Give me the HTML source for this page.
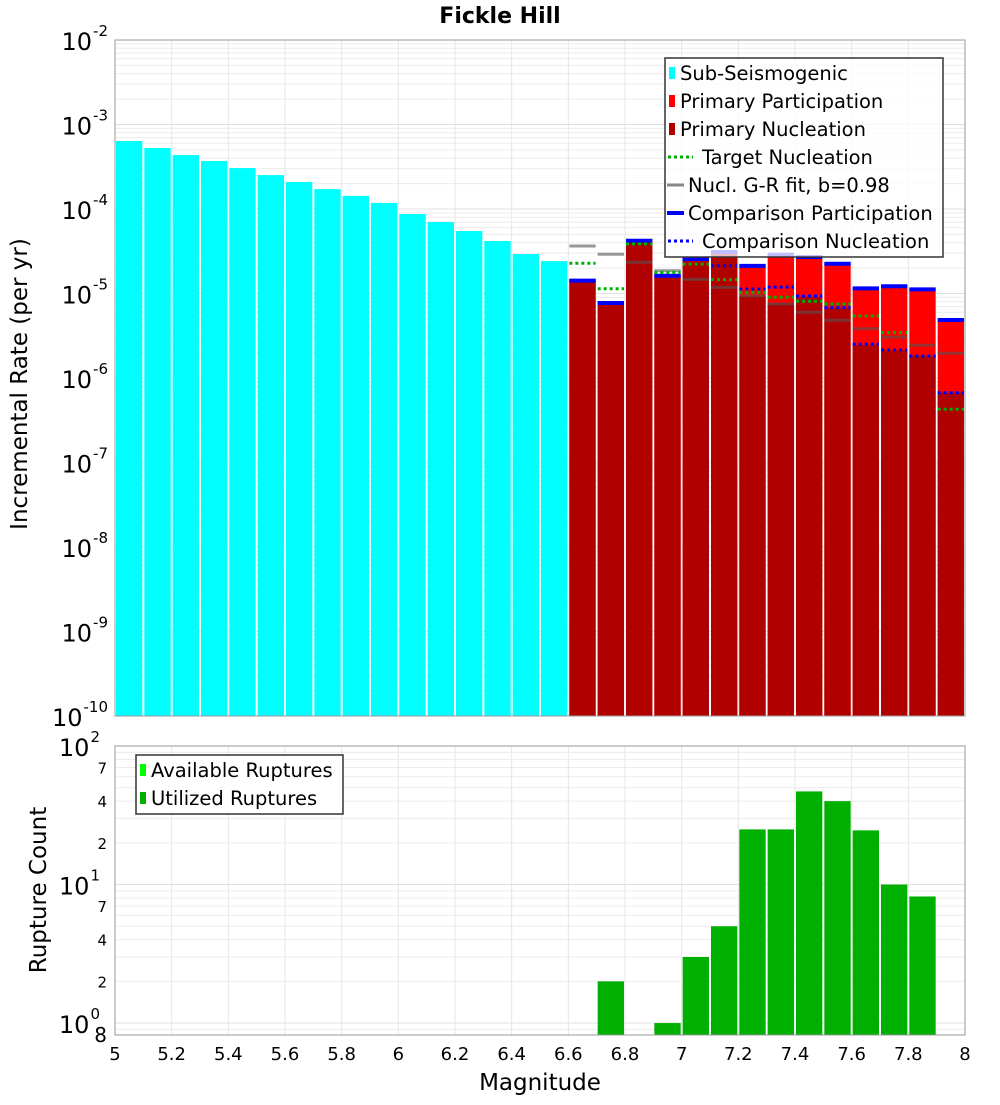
<!DOCTYPE html>
<html><head><meta charset="utf-8"><style>
body{margin:0;background:#fff;}
svg text{font-family:"DejaVu Sans","Liberation Sans",sans-serif;fill:#000;}
</style></head><body>
<svg id="chart" width="1000" height="1100" viewBox="0 0 1000 1100" xmlns="http://www.w3.org/2000/svg">
<text x="500" y="23" text-anchor="middle" font-size="22" font-weight="bold">Fickle Hill</text>
<g id="gtop"></g><g id="gbot"></g>
</svg>
<script>
const subMags=[5.0,5.1,5.2,5.3,5.4,5.5,5.6,5.7,5.8,5.9,6.0,6.1,6.2,6.3,6.4,6.5];
const subRates=[6.38e-4,5.27e-4,4.35e-4,3.70e-4,3.05e-4,2.52e-4,2.09e-4,1.72e-4,1.43e-4,1.18e-4,8.73e-5,7.02e-5,5.49e-5,4.18e-5,2.93e-5,2.42e-5];
const priMags=[6.6,6.7,6.8,6.9,7.0,7.1,7.2,7.3,7.4,7.5,7.6,7.7,7.8,7.9];
const partRates=[1.42e-5,7.72e-6,4.21e-5,1.62e-5,2.56e-5,3.10e-5,2.12e-5,2.88e-5,2.70e-5,2.25e-5,1.15e-5,1.22e-5,1.12e-5,4.86e-6];
const nuclRates=[1.42e-5,7.72e-6,4.21e-5,1.62e-5,2.56e-5,3.0e-5,9.33e-6,7.72e-6,9.17e-6,6.73e-6,2.46e-6,2.14e-6,1.82e-6,6.70e-7];
const targetNucl=[2.28e-5,1.14e-5,3.86e-5,1.78e-5,2.23e-5,1.46e-5,1.03e-5,9.02e-6,8.09e-6,7.5e-6,5.42e-6,3.44e-6,1.82e-6,4.27e-7];
const grFit=[3.65e-5,2.91e-5,2.34e-5,1.86e-5,1.47e-5,1.18e-5,9.42e-6,7.52e-6,6.0e-6,4.82e-6,3.83e-6,3.05e-6,2.44e-6,1.96e-6];
const compPart=[1.42e-5,7.72e-6,4.21e-5,1.62e-5,2.56e-5,3.10e-5,2.12e-5,2.88e-5,2.70e-5,2.25e-5,1.15e-5,1.22e-5,1.12e-5,4.86e-6];
const compNucl=[1.42e-5,7.72e-6,4.21e-5,1.62e-5,2.56e-5,2.13e-5,1.13e-5,1.19e-5,9.33e-6,6.8e-6,2.52e-6,2.15e-6,1.82e-6,6.70e-7];
const cntMags=[6.7,6.9,7.0,7.1,7.2,7.3,7.4,7.5,7.6,7.7,7.8];
const cntUsed=[2,1,3,5,25,25,47,40,24.6,10,8.2];
const xTicks=["5","5.2","5.4","5.6","5.8","6","6.2","6.4","6.6","6.8","7","7.2","7.4","7.6","7.8","8"];
const topExps=[-2,-3,-4,-5,-6,-7,-8,-9,-10];

const NS="http://www.w3.org/2000/svg";
const L=115,R=965,T1=40,B1=716,T2=746,B2=1035;
const X=m=>L+(m-5)/3*(R-L);
const Y1=v=>T1+(-2-Math.log10(v))/8*(B1-T1);
const lmin=Math.log10(0.82);
const Y2=v=>B2-(Math.log10(v)-lmin)/(2-lmin)*(B2-T2);
const bw=X(5.1)-X(5);
function mk(p,tag,a,txt){const e=document.createElementNS(NS,tag);for(const k in a)e.setAttribute(k,a[k]);if(txt!==undefined)e.textContent=txt;p.appendChild(e);return e;}
const gTop=document.getElementById('gtop'),gBot=document.getElementById('gbot');
const chartEl=document.getElementById('chart');

function grid(g,T,B,Yf,lo,hi){
  for(let e=lo;e<hi;e++)for(let k=1;k<10;k++){const v=k*Math.pow(10,e);const y=Yf(v);if(y<T-0.5||y>B+0.5)continue;
    const l=mk(g,'line',{x1:L,x2:R,y1:y,y2:y,stroke:k==1?'#e0e0e0':'#ececec','stroke-width':1});
    
    }
  for(let i=0;i<=15;i++){const x=X(5+i*0.2);const l=mk(g,'line',{x1:x,x2:x,y1:T,y2:B,stroke:'#e6e6e6','stroke-width':1});
    
    }
}
grid(gTop,T1,B1,Y1,-10,-2);
grid(gBot,T2,B2,Y2,-1,2);

subMags.forEach((m,i)=>{const y=Y1(subRates[i]);const r=mk(gTop,'rect',{x:X(m)+1,y:y,width:bw-2,height:B1-y,fill:'#00ffff'});
  
  });
priMags.forEach((m,i)=>{let y=Y1(partRates[i]);let r=mk(gTop,'rect',{x:X(m)+1,y:y,width:bw-2,height:B1-y,fill:'#ff0000'});
  
  
  y=Y1(nuclRates[i]);r=mk(gTop,'rect',{x:X(m)+1,y:y,width:bw-2,height:B1-y,fill:'#b00000'});
  
  });
function seg(arr,name,stroke,w,dash,op){priMags.forEach((m,i)=>{const y=Y1(arr[i]);const a={x1:X(m)+1,x2:X(m)+bw-1,y1:y,y2:y,stroke:stroke,'stroke-width':w,opacity:op};if(dash)a['stroke-dasharray']=dash;
  const l=mk(gTop,'line',a);
  
  });}
seg(grFit,'gr-fit-line','#555',3,null,0.6);
seg(compPart,'comparison-participation-line','#0000ff',4,null,1);
seg(targetNucl,'target-nucleation-line','#00b000',3,'3,3',1);
seg(compNucl,'comparison-nucleation-line','#0000ff',3,'3,3',1);

cntMags.forEach((m,i)=>{const y=Y2(cntUsed[i]);const r=mk(gBot,'rect',{x:X(m)+1,y:y,width:bw-2,height:B2-y,fill:'#00b000'});
  
  });

[[T1,B1],[T2,B2]].forEach(([t,b])=>{const f=mk(chartEl,'rect',{x:L,y:t,width:R-L,height:b-t,fill:'none',stroke:'#999','stroke-width':1});
  
  });

topExps.forEach(e=>{const y=Y1(Math.pow(10,e));const t=mk(gTop,'text',{x:108,y:y+10,'text-anchor':'end','font-size':24});
  
  
  t.textContent='10';mk(t,'tspan',{'font-size':15,dy:-14,dx:1},String(e));});
[[100,'2'],[10,'1'],[1,'0']].forEach(([v,e])=>{const y=Y2(v);const t=mk(gBot,'text',{x:100,y:y+10,'text-anchor':'end','font-size':24});
  
  
  t.textContent='10';mk(t,'tspan',{'font-size':15,dy:-14,dx:1},e);});
[7,4,2,70,40,20].forEach(v=>{const t=mk(gBot,'text',{x:107,y:Y2(v)+6,'text-anchor':'end','font-size':15,fill:'#333'},String(v).charAt(0));
  
  });
{const t=mk(gBot,'text',{x:107,y:B2+7,'text-anchor':'end','font-size':20},'8');
  
  }
xTicks.forEach(s=>{const t=mk(gBot,'text',{x:X(parseFloat(s)),y:1060,'text-anchor':'middle','font-size':18},s);
  
  });
</script>
<svg style="position:absolute;left:0;top:0" width="1000" height="1100">
<text x="540" y="1090" text-anchor="middle" font-size="23" font-family="DejaVu Sans, sans-serif">Magnitude</text>
<text transform="translate(27,384) rotate(-90)" text-anchor="middle" font-size="23" font-family="DejaVu Sans, sans-serif">Incremental Rate (per yr)</text>
<text transform="translate(46,890) rotate(-90)" text-anchor="middle" font-size="23" font-family="DejaVu Sans, sans-serif">Rupture Count</text>
<g font-family="DejaVu Sans, sans-serif" font-size="19.5">
<rect x="665" y="58" width="278" height="199" fill="#fff" fill-opacity="0.75" stroke="#333" stroke-width="1.5"/>
<rect x="669" y="67" width="6" height="12" fill="#00ffff"/><text x="680" y="80">Sub-Seismogenic</text>
<rect x="669" y="95" width="6" height="12" fill="#ff0000"/><text x="680" y="108">Primary Participation</text>
<rect x="669" y="123" width="6" height="12" fill="#b00000"/><text x="680" y="136">Primary Nucleation</text>
<line x1="668" x2="693" y1="157" y2="157" stroke="#00b000" stroke-width="3" stroke-dasharray="3,3"/><text x="702" y="164">Target Nucleation</text>
<line x1="667" x2="684" y1="185" y2="185" stroke="#888" stroke-width="3"/><text x="688" y="192">Nucl. G-R fit, b=0.98</text>
<line x1="667" x2="684" y1="213" y2="213" stroke="#0000ff" stroke-width="4"/><text x="688" y="220">Comparison Participation</text>
<line x1="668" x2="693" y1="241" y2="241" stroke="#0000ff" stroke-width="3" stroke-dasharray="3,3"/><text x="702" y="248">Comparison Nucleation</text>
</g>
<g font-family="DejaVu Sans, sans-serif" font-size="19.5">
<rect x="136" y="755" width="207" height="59" fill="#fff" stroke="#333" stroke-width="1.5"/>
<rect x="140" y="764" width="6" height="12" fill="#00ff00"/><text x="151" y="777">Available Ruptures</text>
<rect x="140" y="792" width="6" height="12" fill="#00b000"/><text x="151" y="805">Utilized Ruptures</text>
</g>
</svg>
</body></html>
